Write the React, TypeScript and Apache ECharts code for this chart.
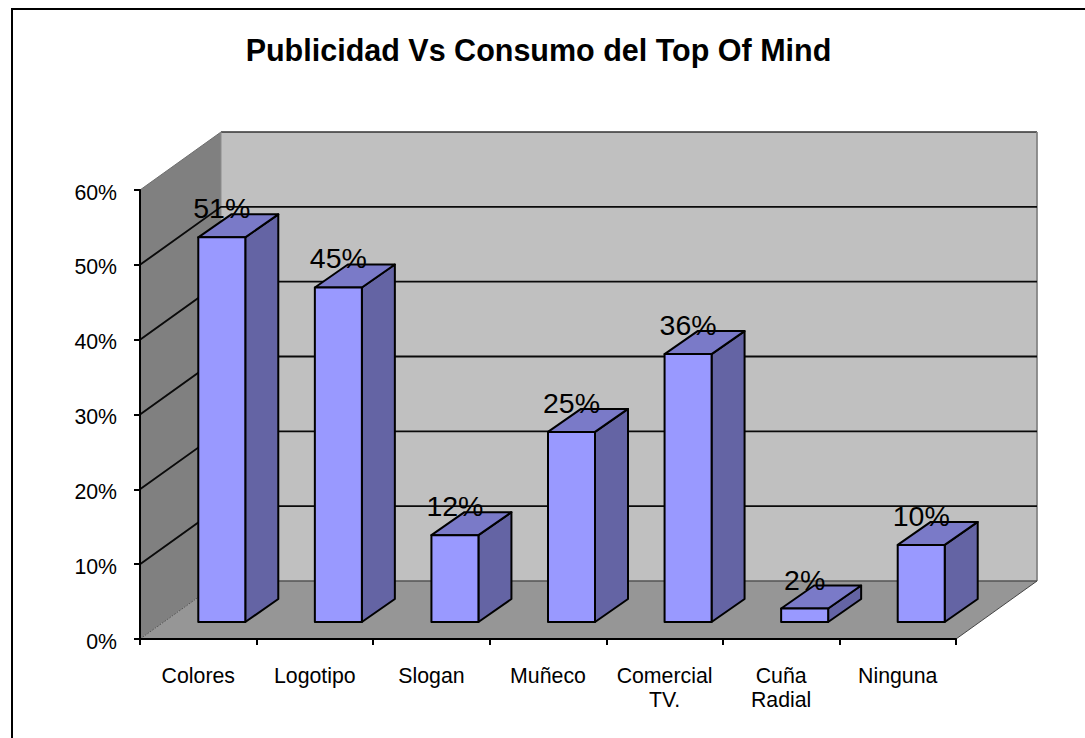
import React, { useEffect, useRef } from "react";
import * as echarts from "echarts";

const titleText = "Publicidad Vs Consumo del Top Of Mind";
const categories = ["Colores", "Logotipo", "Slogan", "Muñeco", "Comercial\nTV.", "Cuña\nRadial", "Ninguna"];
const shares = [51.4, 44.7, 11.6, 25.4, 35.8, 1.8, 10.3];
const shareLabels = ["51%", "45%", "12%", "25%", "36%", "2%", "10%"];
const wallTicks = [10, 20, 30, 40, 50];

const FONT = '"Liberation Sans", Arial, sans-serif';
const DX = 81, DY = 58;        // floor depth
const BAR_W = 47, BAR_DX = 33, BAR_DY = 23;
const BASE_UP = 17;            // bar base above the front floor edge

function renderWalls(_p: any, api: any) {
  const band = api.size([1, 0])[0];
  const x0 = api.coord([0, 0])[0] - band / 2;
  const x1 = api.coord([categories.length - 1, 0])[0] + band / 2;
  const y0 = api.coord([0, 0])[1];
  const y60 = api.coord([0, 60])[1];
  const children: any[] = [
    { type: "polygon", shape: { points: [[x0 + DX, y60 - DY], [x1 + DX, y60 - DY], [x1 + DX, y0 - DY], [x0 + DX, y0 - DY]] },
      style: { fill: "#C0C0C0" } },
    { type: "polygon", shape: { points: [[x0, y0], [x0, y60], [x0 + DX, y60 - DY], [x0 + DX, y0 - DY]] },
      style: { fill: "#808080" } },
    { type: "polygon", shape: { points: [[x0, y0], [x0 + DX, y0 - DY], [x1 + DX, y0 - DY], [x1, y0]] },
      style: { fill: "#969696" } },
    { type: "polyline", shape: { points: [[x0, y60], [x0 + DX, y60 - DY]] }, style: { stroke: "#6e6e6e", lineWidth: 1, fill: "none" } },
    { type: "line", shape: { x1: x0 + DX, y1: y60 - DY, x2: x1 + DX, y2: y60 - DY }, style: { stroke: "#333333", lineWidth: 1.7 } },
    { type: "line", shape: { x1: x1 + DX, y1: y60 - DY, x2: x1 + DX, y2: y0 - DY }, style: { stroke: "#808080", lineWidth: 1.7 } },
    { type: "line", shape: { x1: x0 + DX, y1: y60 - DY, x2: x0 + DX, y2: y0 - DY }, style: { stroke: "#8c8c8c", lineWidth: 1 } },
    { type: "line", shape: { x1: x0, y1: y0, x2: x0 + DX, y2: y0 - DY }, style: { stroke: "#555555", lineWidth: 1, lineDash: [2, 1] } },
    { type: "line", shape: { x1: x0 + DX, y1: y0 - DY, x2: x1 + DX, y2: y0 - DY }, style: { stroke: "#555555", lineWidth: 1.4 } },
    { type: "line", shape: { x1: x1, y1: y0, x2: x1 + DX, y2: y0 - DY }, style: { stroke: "#444444", lineWidth: 1 } },
  ];
  wallTicks.forEach((t) => {
    const y = api.coord([0, t])[1];
    children.push({
      type: "polyline",
      shape: { points: [[x0, y], [x0 + DX, y - DY], [x1 + DX, y - DY]] },
      style: { stroke: "#0a0a0a", lineWidth: 1.9, fill: "none" },
    });
  });
  return { type: "group", children };
}

function renderBar(params: any, api: any) {
  const i = api.value(0);
  const v = api.value(1);
  const [cx, y0] = api.coord([i, 0]);
  const yV = api.coord([i, v])[1];
  const l = cx, r = cx + BAR_W;
  const b = y0 - BASE_UP, t = yV - BASE_UP;
  const edge = { stroke: "#000", lineWidth: 2, lineJoin: "round" };
  return {
    type: "group",
    children: [
      { type: "polygon", shape: { points: [[r, b], [r + BAR_DX, b - BAR_DY], [r + BAR_DX, t - BAR_DY], [r, t]] },
        style: { fill: "#6464A4", ...edge } },
      { type: "polygon", shape: { points: [[l, t], [r, t], [r + BAR_DX, t - BAR_DY], [l + BAR_DX, t - BAR_DY]] },
        style: { fill: "#7A7AC8", ...edge } },
      { type: "polygon", shape: { points: [[l, b], [r, b], [r, t], [l, t]] },
        style: { fill: "#9999FF", ...edge } },
      { type: "text", z2: 10,
        style: { text: shareLabels[params.dataIndex], x: l + BAR_W / 2, y: t - 29, align: "center", verticalAlign: "middle",
          font: `28.5px ${FONT}`, fill: "#000" } },
    ],
  };
}

export default function App() {
  const ref = useRef<HTMLDivElement>(null);
  useEffect(() => {
    document.body.style.margin = "0";
    const chart = echarts.init(ref.current!, undefined, { renderer: "svg" });
    chart.setOption({
      animation: false,
      backgroundColor: "#fff",
      title: {
        text: titleText, left: 533.5, top: 29, textAlign: "center",
        textStyle: { fontFamily: FONT, fontSize: 30.5, fontWeight: "bold", color: "#000" },
      },
      grid: { left: 140, top: 190, width: 816, height: 449, containLabel: false },
      xAxis: {
        type: "category", data: categories, z: 5,
        axisLine: { lineStyle: { color: "#000", width: 2 } },
        axisTick: { show: true, length: 6, lineStyle: { color: "#000", width: 2 } },
        axisLabel: { interval: 0, margin: 25, fontFamily: FONT, fontSize: 21.3, color: "#000", lineHeight: 24, verticalAlign: "top" },
      },
      yAxis: {
        type: "value", min: 0, max: 60, interval: 10, z: 5,
        axisLine: { show: true, lineStyle: { color: "#000", width: 2 } },
        axisTick: { show: true, length: 6, lineStyle: { color: "#000", width: 2 } },
        axisLabel: {
          formatter: "{a|{value}%}", margin: 23, color: "#000",
          rich: { a: { fontFamily: FONT, fontSize: 21.3, color: "#000", padding: [5, 0, 0, 0] } },
        },
        splitLine: { show: false },
      },
      graphic: [
        { type: "line", shape: { x1: 12, y1: 9, x2: 1085, y2: 9 }, style: { stroke: "#000", lineWidth: 2 } },
        { type: "line", shape: { x1: 12, y1: 8, x2: 12, y2: 738 }, style: { stroke: "#000", lineWidth: 2 } },
      ],
      series: [
        { type: "custom", z: 1, silent: true, clip: false, renderItem: renderWalls, data: [[0, 0]] },
        { type: "custom", z: 2, silent: true, clip: false, renderItem: renderBar,
          data: shares.map((v, i) => [i, v]), encode: { x: 0, y: 1 } },
      ],
    });
    return () => chart.dispose();
  }, []);
  return <div ref={ref} style={{ width: 1085, height: 738 }} />;
}
